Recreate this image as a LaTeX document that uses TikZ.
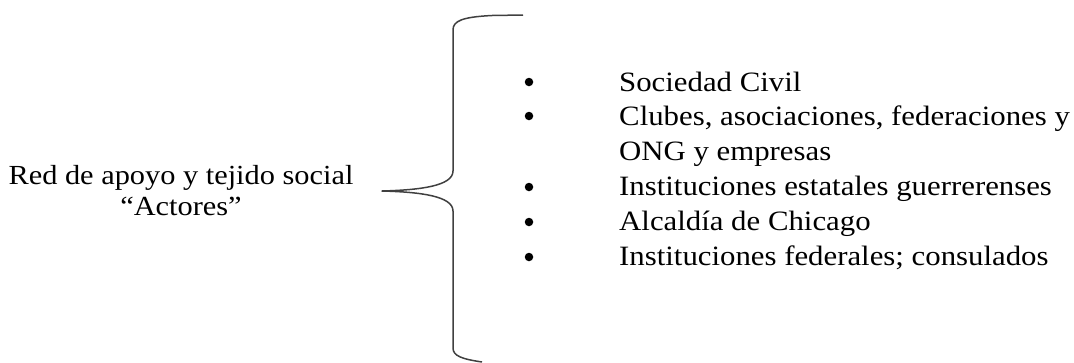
\documentclass[tikz,border=0pt]{standalone}
\usepackage{fontspec}
\setmainfont{Liberation Serif}[FakeStretch=1.1]
\begin{document}
\begin{tikzpicture}[x=1pt,y=-1pt,
  txt/.style={anchor=base west,inner sep=0pt,font=\fontsize{28}{35}\selectfont},
  lbl/.style={anchor=base,inner sep=0pt,font=\fontsize{27.6}{35}\selectfont},
  dot/.style={circle,fill=black,inner sep=0pt,minimum size=8.5pt},
  brace/.style={draw=black!75,line width=1.5pt,line join=round}]
\useasboundingbox (0,0) rectangle (1074,362);
% left label
\node[lbl] (l1) at (181,184) {Red de apoyo y tejido social};
\node[lbl] (l2) at (181,215) {“Actores”};
% brace
\coordinate (btop) at (523,15);
\coordinate (btip) at (382,191);
\coordinate (bbot) at (482,362);
\draw[brace] (btop) -- (492,15.5) .. controls (462,17) and (453,21) .. (453,30)
  -- (453,171) .. controls (453,186) and (420,190) .. (btip)
  .. controls (420,192) and (453,196) .. (453,211)
  -- (453,348) .. controls (453,356) and (462,359) .. (bbot);
% bullets
\node[dot] (b1) at (529,82) {};
\node[dot] (b2) at (529,116) {};
\node[dot] (b3) at (529,187) {};
\node[dot] (b4) at (529,222) {};
\node[dot] (b5) at (529,257) {};
% items
\node[txt] (t1) at (619,91) {Sociedad Civil};
\node[txt] (t2) at (619,125) {Clubes, asociaciones, federaciones y};
\node[txt] (t2b) at (619,160) {ONG y empresas};
\node[txt] (t3) at (619,195) {Instituciones estatales guerrerenses};
\node[txt] (t4) at (619,230) {Alcaldía de Chicago};
\node[txt] (t5) at (619,265) {Instituciones federales; consulados};
\end{tikzpicture}
\end{document}
